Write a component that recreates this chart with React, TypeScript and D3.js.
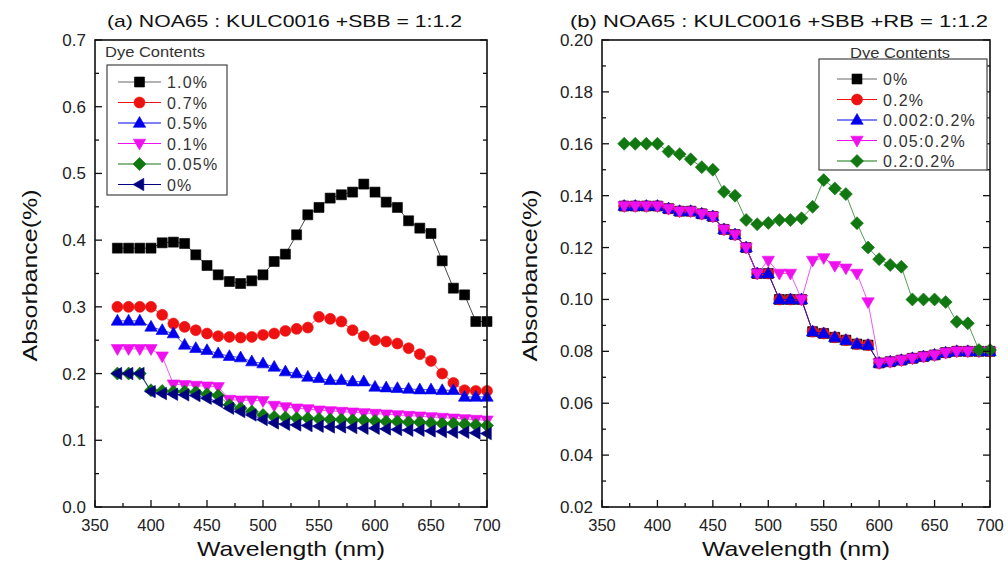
import { useEffect, useRef } from 'react';
import * as d3 from 'd3';

const wavelengths = [370, 380, 390, 400, 410, 420, 430, 440, 450, 460, 470, 480, 490, 500, 510, 520, 530,
  540, 550, 560, 570, 580, 590, 600, 610, 620, 630, 640, 650, 660, 670, 680, 690, 700];

// (a) NOA65 : KULC0016 +SBB
const aLabels = ['1.0%', '0.7%', '0.5%', '0.1%', '0.05%', '0%'];
const a10 = [0.388, 0.388, 0.388, 0.388, 0.396, 0.397, 0.395, 0.378, 0.362, 0.348, 0.338, 0.335, 0.339, 0.348, 0.368, 0.379, 0.408,
  0.438, 0.449, 0.463, 0.468, 0.472, 0.484, 0.472, 0.457, 0.449, 0.429, 0.418, 0.41, 0.369, 0.328, 0.318, 0.278, 0.278];
const a07 = [0.3, 0.3, 0.3, 0.3, 0.288, 0.275, 0.27, 0.265, 0.26, 0.256, 0.255, 0.254, 0.255, 0.258, 0.26, 0.264, 0.267,
  0.269, 0.285, 0.282, 0.278, 0.265, 0.256, 0.25, 0.248, 0.245, 0.238, 0.229, 0.219, 0.2, 0.186, 0.175, 0.174, 0.174];
const a05 = [0.279, 0.279, 0.279, 0.27, 0.265, 0.26, 0.243, 0.238, 0.235, 0.23, 0.226, 0.224, 0.218, 0.215, 0.21, 0.203, 0.2,
  0.195, 0.193, 0.19, 0.19, 0.188, 0.188, 0.18, 0.179, 0.178, 0.177, 0.176, 0.176, 0.175, 0.175, 0.165, 0.165, 0.165];
const a01 = [0.237, 0.237, 0.237, 0.237, 0.226, 0.184, 0.183, 0.182, 0.181, 0.18, 0.161, 0.16, 0.16, 0.159, 0.152, 0.15, 0.148,
  0.147, 0.145, 0.144, 0.143, 0.142, 0.141, 0.14, 0.139, 0.138, 0.137, 0.136, 0.135, 0.134, 0.133, 0.132, 0.131, 0.13];
const a005 = [0.2, 0.2, 0.2, 0.175, 0.174, 0.173, 0.173, 0.172, 0.169, 0.167, 0.153, 0.148, 0.143, 0.138, 0.135, 0.134, 0.133,
  0.133, 0.132, 0.131, 0.131, 0.13, 0.13, 0.129, 0.128, 0.128, 0.127, 0.127, 0.126, 0.125, 0.125, 0.124, 0.123, 0.122];
const a00 = [0.2, 0.2, 0.2, 0.173, 0.17, 0.169, 0.168, 0.167, 0.163, 0.158, 0.148, 0.143, 0.138, 0.131, 0.126, 0.124, 0.123,
  0.122, 0.121, 0.12, 0.12, 0.119, 0.118, 0.118, 0.117, 0.116, 0.115, 0.115, 0.114, 0.113, 0.112, 0.112, 0.111, 0.11];

// (b) NOA65 : KULC0016 +SBB +RB
const bLabels = ['0%', '0.2%', '0.002:0.2%', '0.05:0.2%', '0.2:0.2%'];
const b0 = [0.136, 0.136, 0.136, 0.136, 0.135, 0.134, 0.134, 0.133, 0.132, 0.127, 0.125, 0.12, 0.11, 0.11, 0.1, 0.1, 0.1,
  0.0876, 0.0869, 0.0854, 0.0843, 0.0828, 0.0824, 0.0755, 0.076, 0.0766, 0.0773, 0.078, 0.0786, 0.0795, 0.08, 0.08, 0.08, 0.08];
const b02 = [0.136, 0.136, 0.136, 0.136, 0.135, 0.134, 0.134, 0.133, 0.132, 0.127, 0.125, 0.12, 0.11, 0.11, 0.1, 0.1, 0.1,
  0.0876, 0.0869, 0.0854, 0.0843, 0.0828, 0.0824, 0.0755, 0.076, 0.0766, 0.0773, 0.078, 0.0786, 0.0795, 0.08, 0.08, 0.08, 0.08];
const b0002 = [0.136, 0.136, 0.136, 0.136, 0.135, 0.134, 0.134, 0.133, 0.132, 0.127, 0.125, 0.12, 0.11, 0.11, 0.1, 0.1, 0.1,
  0.0876, 0.0869, 0.0854, 0.0843, 0.0828, 0.0824, 0.0755, 0.076, 0.0766, 0.0773, 0.078, 0.0786, 0.0795, 0.08, 0.08, 0.08, 0.08];
const b005 = [0.136, 0.136, 0.136, 0.136, 0.135, 0.134, 0.134, 0.133, 0.132, 0.127, 0.125, 0.12, 0.11, 0.115, 0.11, 0.11, 0.1,
  0.115, 0.116, 0.113, 0.112, 0.11, 0.099, 0.0755, 0.076, 0.0766, 0.0773, 0.078, 0.0786, 0.0795, 0.08, 0.08, 0.08, 0.08];
const b02b = [0.16, 0.16, 0.16, 0.16, 0.157, 0.156, 0.154, 0.151, 0.15, 0.1415, 0.14, 0.1306, 0.129, 0.1295, 0.1306, 0.1306, 0.1313,
  0.1357, 0.146, 0.1428, 0.1406, 0.1294, 0.12, 0.1155, 0.1133, 0.1126, 0.1, 0.1, 0.1, 0.099, 0.0914, 0.0908, 0.0805, 0.0805];

const xTicks = [350, 400, 450, 500, 550, 600, 650, 700];
const aYTicks = [0.0, 0.1, 0.2, 0.3, 0.4, 0.5, 0.6, 0.7];
const bYTicks = [0.02, 0.04, 0.06, 0.08, 0.1, 0.12, 0.14, 0.16, 0.18, 0.2];

const colors = ['#000000', '#ee1111', '#0000ee', '#ee11ee', '#117711', '#000080'];
const shapes = ['square', 'circle', 'up', 'down', 'diamond', 'left'];

function markerPath(shape: string) {
  switch (shape) {
    case 'square': return 'M-5,-5H5V5H-5Z';
    case 'circle': return d3.symbol(d3.symbolCircle, 95)();
    case 'up': return 'M0,-6.5L6.2,4.3L-6.2,4.3Z';
    case 'down': return 'M0,6.5L6.2,-4.3L-6.2,-4.3Z';
    case 'diamond': return 'M0,-6.5L6.5,0L0,6.5L-6.5,0Z';
    default: return 'M-6.5,0L4.3,-6.2L4.3,6.2Z';
  }
}

function drawPanel(svg: any, cfg: any) {
  const { left, right, top, bottom, yDomain, yTicks, yMinor, yFmt, series, labels, title, titleX, titleLen, legend } = cfg;
  const x = d3.scaleLinear().domain([350, 700]).range([left, right]);
  const y = d3.scaleLinear().domain(yDomain).range([bottom, top]);
  const g = svg.append('g');

  // series
  series.forEach((vals: number[], i: number) => {
    const ci = cfg.colorIdx[i];
    const pts = wavelengths.map((w, k) => [x(w), y(vals[k])] as [number, number]);
    g.append('path')
      .attr('d', d3.line()(pts))
      .attr('fill', 'none')
      .attr('stroke', colors[ci])
      .attr('stroke-width', 0.9)
      .attr('opacity', 0.8);
    g.selectAll(null)
      .data(pts)
      .join('path')
      .attr('d', markerPath(shapes[ci]))
      .attr('transform', (d: any) => `translate(${d[0]},${d[1]})`)
      .attr('fill', colors[ci])
      .attr('stroke', colors[ci])
      .attr('stroke-width', 0.6);
  });

  // frame
  g.append('rect')
    .attr('x', left).attr('y', top)
    .attr('width', right - left).attr('height', bottom - top)
    .attr('fill', 'none').attr('stroke', '#111').attr('stroke-width', 1.6);

  // x ticks (major + minor, inward)
  d3.range(350, 701, 25).forEach(v => {
    const major = v % 50 === 0;
    g.append('line')
      .attr('x1', x(v)).attr('x2', x(v))
      .attr('y1', bottom).attr('y2', bottom - (major ? 7 : 4))
      .attr('stroke', '#111').attr('stroke-width', 1.3);
  });
  xTicks.forEach(v => {
    g.append('text')
      .attr('x', x(v)).attr('y', bottom + 24)
      .attr('text-anchor', 'middle')
      .attr('fill', '#222')
      .style('font-size', '16.5px')
      .text(v);
  });

  // y ticks both sides
  d3.range(yDomain[0], yDomain[1] + yMinor / 2, yMinor).forEach((v, k) => {
    const major = k % 2 === 0;
    const len = major ? 7 : 4;
    g.append('line')
      .attr('x1', left).attr('x2', left + len)
      .attr('y1', y(v)).attr('y2', y(v))
      .attr('stroke', '#111').attr('stroke-width', 1.3);
    g.append('line')
      .attr('x1', right).attr('x2', right - len)
      .attr('y1', y(v)).attr('y2', y(v))
      .attr('stroke', '#111').attr('stroke-width', 1.3);
  });
  yTicks.forEach((v: number) => {
    g.append('text')
      .attr('x', left - 9).attr('y', y(v) + 6)
      .attr('text-anchor', 'end')
      .attr('fill', '#222')
      .style('font-size', '17px')
      .text(yFmt(v));
  });

  // axis titles
  g.append('text')
    .attr('x', (left + right) / 2).attr('y', bottom + 49)
    .attr('text-anchor', 'middle')
    .attr('textLength', 188)
    .attr('lengthAdjust', 'spacingAndGlyphs')
    .attr('fill', '#111')
    .style('font-size', '21px')
    .text('Wavelength (nm)');
  g.append('text')
    .attr('transform', `translate(${cfg.yTitleX},${(top + bottom) / 2 + 2}) rotate(-90)`)
    .attr('text-anchor', 'middle')
    .attr('textLength', 172)
    .attr('lengthAdjust', 'spacingAndGlyphs')
    .attr('fill', '#111')
    .style('font-size', '21px')
    .text('Absorbance(%)');

  // panel title
  g.append('text')
    .attr('x', titleX).attr('y', 27)
    .attr('textLength', titleLen)
    .attr('lengthAdjust', 'spacingAndGlyphs')
    .attr('fill', '#111')
    .style('font-size', '17px')
    .text(title);

  // legend
  const L = legend;
  g.append('text')
    .attr('x', L.headX).attr('y', L.headY)
    .attr('textLength', 100)
    .attr('lengthAdjust', 'spacingAndGlyphs')
    .attr('fill', '#333')
    .style('font-size', '14px')
    .text('Dye Contents');
  g.append('rect')
    .attr('x', L.x).attr('y', L.y)
    .attr('width', L.w).attr('height', L.h)
    .attr('fill', 'white').attr('stroke', '#444').attr('stroke-width', 1.2);
  labels.forEach((lab: string, i: number) => {
    const ci = cfg.colorIdx[i];
    const ly = L.y + L.first + i * L.step;
    g.append('line')
      .attr('x1', L.lx1).attr('x2', L.lx2)
      .attr('y1', ly).attr('y2', ly)
      .attr('stroke', ci === 0 ? '#666' : colors[ci]).attr('stroke-width', 1);
    g.append('path')
      .attr('d', markerPath(shapes[ci]))
      .attr('transform', `translate(${(L.lx1 + L.lx2) / 2},${ly})`)
      .attr('fill', colors[ci]).attr('stroke', colors[ci]).attr('stroke-width', 0.6);
    g.append('text')
      .attr('x', L.tx).attr('y', ly + 6)
      .attr('fill', '#333')
      .style('font-size', '16px')
      .style('letter-spacing', '1.2px')
      .text(lab);
  });
}

export default function App() {
  const svgRef = useRef<SVGSVGElement>(null);

  useEffect(() => {
    const svg = d3.select(svgRef.current);
    svg.selectAll('*').remove();

    drawPanel(svg, {
      left: 95, right: 487, top: 40, bottom: 507,
      yDomain: [0, 0.7], yTicks: aYTicks, yMinor: 0.05, yFmt: d3.format('.1f'),
      series: [a10, a07, a05, a01, a005, a00], labels: aLabels, colorIdx: [0, 1, 2, 3, 4, 5],
      title: '(a) NOA65 : KULC0016 +SBB = 1:1.2', titleX: 107, titleLen: 355,
      yTitleX: 37,
      legend: {
        headX: 105, headY: 57,
        x: 107, y: 65, w: 120, h: 130, first: 17, step: 20.5,
        lx1: 118, lx2: 161, tx: 167,
      },
    });

    drawPanel(svg, {
      left: 602, right: 990, top: 40, bottom: 507,
      yDomain: [0.02, 0.2], yTicks: bYTicks, yMinor: 0.01, yFmt: d3.format('.2f'),
      series: [b0, b02, b0002, b005, b02b], labels: bLabels, colorIdx: [0, 1, 2, 3, 4],
      title: '(b) NOA65 : KULC0016 +SBB +RB = 1:1.2', titleX: 570, titleLen: 418,
      yTitleX: 537,
      legend: {
        headX: 850, headY: 58,
        x: 819, y: 59, w: 168, h: 111, first: 20, step: 20.5,
        lx1: 837, lx2: 877, tx: 883,
      },
    });
  }, []);

  return (
    <svg
      ref={svgRef}
      width={1008}
      height={562}
      style={{ position: 'absolute', left: 0, top: 0, background: 'white', fontFamily: '"Liberation Sans", Arial, sans-serif' }}
    />
  );
}
